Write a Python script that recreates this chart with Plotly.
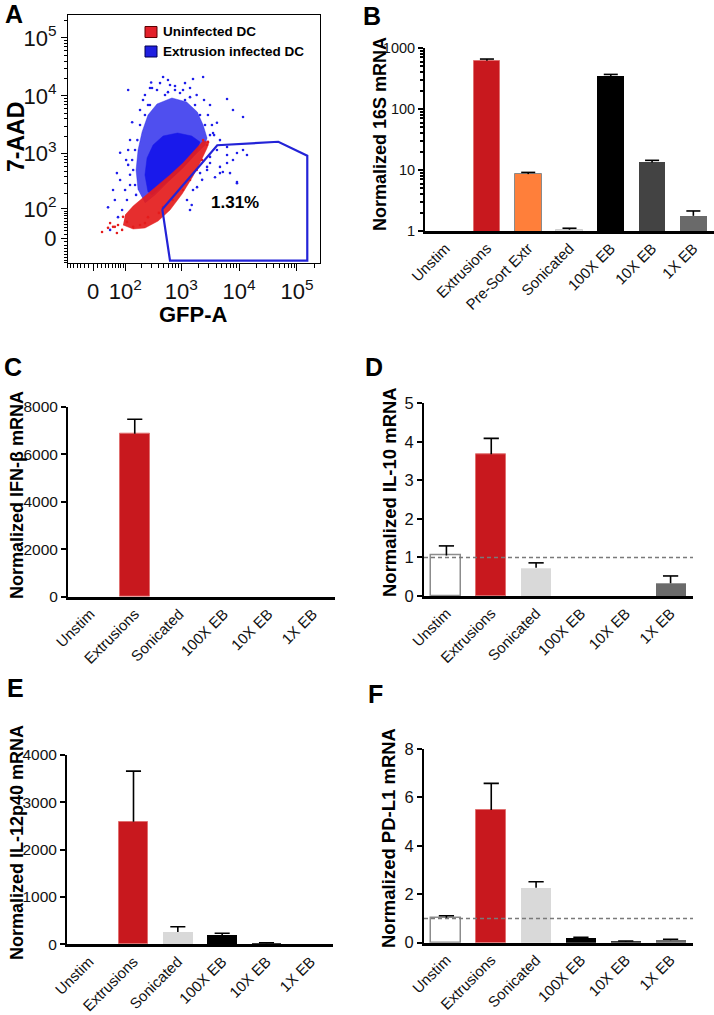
import numpy as np
import plotly.graph_objects as go

W, H = 714, 1015
FONT = "Liberation Sans, Arial, Helvetica, sans-serif"

# ---------------- Panel A : flow cytometry (raw intensities) ----------------
# scattered blue events (Extrusion infected DC)
blue_gfp = [485, 590, 1600, 2390, 114, 215, 380, 954, 1420, 6200, 11700, 7850, 136, 190,
            4150, 3550, 4680, 7850, 9200, 4680, 2800, 3150, 66, 53, 38, 78, 108, 44, 70,
            1420, 1260, 1880, 6200, 2120, 4150, 6200, 9200, 13700, 3150, 4680, 6970, 5250,
            3840, 9200, 2300, 1600, 1520, 2800, 6200, 11700, 154, 136, 170, 124, 154, 99,
            114, 190, 233, 286, 524, 781, 1164, 1734, 2116, 2580, 3148, 78, 59, 86, 286,
            640, 1164, 300,
            233, 311, 429, 590, 781, 1075, 1421, 1850, 2480, 264, 124, 114, 142, 124, 161,
            104, 2900, 3400, 3700, 3148]
blue_aad = [21200, 18800, 19600, 21200, 12600, 8500, 12600, 11200, 9500, 8800, 4300, 5700,
            3500, 5700, 3420, 2280, 1720, 780, 320, 460, 590, 880, 460, 231, 108, 1040, 151,
            23, 65, 95, 151, 260, 1310, 460, 1160, 950, 1030, 950, 690, 590, 460, 480, 390,
            305, 350, 231, 121, 520, 690, 1160, 1160, 780, 1720, 430, 284, 231, 640, 3140,
            4670, 6960, 10350, 12600, 8490, 6960, 4670, 3140, 2100, 349, 151, 95, 13700,
            15400, 16600, 17000,
            10350, 13700, 16600, 11600, 14800, 12635, 13700, 10350, 8486, 6960, 1724, 1161,
            521, 284, 188, 778, 4670, 3140, 2100, 6960]
# scattered red events (Uninfected DC)
red_gfp = [22, 38, 53, 70, 86, 108, 44, 90, 142, 190, 233, 264, 410, 485, 710, 1075, 1420,
           1850, 2300, 2800, 2390, 2900, 66, 59]
red_aad = [17, 29, 32, 38, 23, 48, 44, 66, 32, 38, 44, 65, 82, 110, 151, 231, 349, 521, 778,
           1414, 1720, 1600, 14, 32]
# dense population outlines
blue_outer_gfp = [175, 161, 175, 207, 264, 380, 690, 1240, 1900, 2390, 2800, 2580, 1734,
                  1075, 590, 350, 233]
blue_outer_aad = [231, 521, 1161, 2380, 4670, 7240, 9190, 7850, 5265, 3140, 1870, 1414, 951,
                  565, 321, 188, 132]
blue_core_gfp = [264, 233, 254, 324, 485, 866, 1520, 2116, 1850, 1260, 781, 470, 310]
blue_core_aad = [213, 427, 843, 1414, 2025, 2280, 2025, 1596, 1072, 690, 427, 272, 188]
red_core_gfp = [90, 142, 233, 397, 640, 1035, 1570, 2116, 2800, 3030, 2390, 1734, 1075, 640,
                380, 233, 142, 99]
red_core_aad = [38, 25.6, 28.6, 51, 95, 195, 393, 690, 1256, 1596, 1660, 1161, 690, 427,
                272, 180, 115, 73]
gate_gfp = [470, 4200, 47600, 150700, 150700, 640, 470]
gate_aad = [99, 1400, 1610, 924, -72, -72, 99]
gate_pct = "1.31%"
a_major = [0, 100, 1000, 10000, 100000]
a_major_text = ["0", "10<sup>2</sup>", "10<sup>3</sup>", "10<sup>4</sup>", "10<sup>5</sup>"]
a_minor = ([-v for v in range(10, 100, 10)] + list(range(10, 100, 10)) +
           list(range(200, 1000, 100)) + list(range(2000, 10000, 1000)) +
           list(range(20000, 100000, 10000)) + [200000])

# ---------------- Panel B : 16S ----------------
cats_B = ["Unstim", "Extrusions", "Pre-Sort Extr", "Sonicated", "100X EB", "10X EB", "1X EB"]
b_mean = [1.0, 618, 8.56, 1.05, 346, 13.3, 1.77]
b_sem = [0, 41, 0.57, 0.06, 23, 1.1, 0.36]
b_colors = ["#ffffff", "#c8181e", "#ff7f3a", "#dcdcdc", "#000000", "#434343", "#6a6a6a"]
b_lines = ["#ffffff", "#e07070", "#8a8a8a", "#cfcfcf", "#000000", "#434343", "#6a6a6a"]

# ---------------- Panels C-F ----------------
cats = ["Unstim", "Extrusions", "Sonicated", "100X EB", "10X EB", "1X EB"]
c_mean = [1, 6860, 0, 0, 0, 0]
c_sem = [0, 610, 0, 0, 0, 0]
d_mean = [1.05, 3.68, 0.73, 0, 0, 0.33]
d_sem = [0.25, 0.41, 0.13, 0, 0, 0.19]
e_mean = [1, 2590, 260, 197, 20, 5]
e_sem = [0, 1070, 112, 35, 12, 0]
f_mean = [1.0, 5.48, 2.27, 0.18, 0.04, 0.10]
f_sem = [0.11, 1.10, 0.25, 0.04, 0.03, 0.04]
cf_colors = ["#ffffff", "#c8181e", "#d9d9d9", "#000000", "#3c3c3c", "#6a6a6a"]
cf_lines = ["#8c8c8c", "#e07070", "#d9d9d9", "#000000", "#3c3c3c", "#6a6a6a"]
cf_lines_noun = ["#ffffff"] + cf_lines[1:]


def bx(v):
    return np.arcsinh(np.asarray(v, dtype=float) / 60.0) / np.log(10)


def by(v):
    return np.arcsinh(np.asarray(v, dtype=float) / 70.0) / np.log(10)


def X(p):
    return p / W


def Y(p):
    return 1 - p / H


fig = go.Figure()


# ---- panel A traces
def poly(gx, gy, color):
    fig.add_trace(go.Scatter(x=bx(gx), y=by(gy), mode="lines", fill="toself",
                             fillcolor=color, line=dict(color=color, width=0.5),
                             hoverinfo="skip", showlegend=False, xaxis="x", yaxis="y"))


poly(blue_outer_gfp, blue_outer_aad, "rgba(30,30,235,0.78)")
poly(blue_core_gfp, blue_core_aad, "rgb(25,25,235)")
poly(red_core_gfp, red_core_aad, "rgba(228,28,28,0.92)")
fig.add_trace(go.Scatter(x=bx(blue_gfp), y=by(blue_aad), mode="markers",
                         marker=dict(size=2.6, color="rgb(30,30,235)"),
                         showlegend=False, xaxis="x", yaxis="y"))
fig.add_trace(go.Scatter(x=bx(red_gfp), y=by(red_aad), mode="markers",
                         marker=dict(size=2.6, color="rgb(228,28,28)"),
                         showlegend=False, xaxis="x", yaxis="y"))
fig.add_trace(go.Scatter(x=bx(gate_gfp), y=by(gate_aad), mode="lines",
                         line=dict(color="rgb(35,35,215)", width=2.2),
                         showlegend=False, xaxis="x", yaxis="y"))


# ---- bar panels
def bar_panel(n, means, sems, colors, lines, ax, width):
    lw = [1.5 if (c == "#ffffff" and l != c) else (1.0 if l != c else 0)
          for c, l in zip(colors, lines)]
    fig.add_trace(go.Bar(x=list(range(n)), y=means, width=width,
                         marker=dict(color=colors, line=dict(color=lines, width=lw)),
                         showlegend=False, xaxis="x" + ax, yaxis="y" + ax))
    ex, ey = [], []
    for i, (m, s) in enumerate(zip(means, sems)):
        if s > 0:
            ex += [i, i, None, i - 0.17, i + 0.17, None]
            ey += [m, m + s, None, m + s, m + s, None]
    fig.add_trace(go.Scatter(x=ex, y=ey, mode="lines", line=dict(color="black", width=1.6),
                             showlegend=False, hoverinfo="skip",
                             xaxis="x" + ax, yaxis="y" + ax))


bar_panel(7, b_mean, b_sem, b_colors, b_lines, "2", 0.65)
bar_panel(6, c_mean, c_sem, cf_colors, cf_lines_noun, "3", 0.67)
bar_panel(6, d_mean, d_sem, cf_colors, cf_lines, "4", 0.67)
bar_panel(6, e_mean, e_sem, cf_colors, cf_lines_noun, "5", 0.67)
bar_panel(6, f_mean, f_sem, cf_colors, cf_lines, "6", 0.67)

tickfont_A = dict(family=FONT, size=22, color="#111")
layout_axes = {}
layout_axes["xaxis"] = dict(domain=[X(68), X(320)], range=[-0.4318, 3.9206], anchor="y",
                            tickmode="array", tickvals=bx(a_major), ticktext=a_major_text,
                            ticks="outside", ticklen=7, tickwidth=1, tickcolor="black",
                            minor=dict(tickvals=bx(a_minor), ticks="outside", ticklen=4,
                                       tickcolor="black", tickwidth=1),
                            showline=True, mirror=True, linecolor="black", linewidth=1,
                            showgrid=False, zeroline=False, tickfont=tickfont_A,
                            ticklabelstandoff=2, automargin=False)
layout_axes["yaxis"] = dict(domain=[Y(263), Y(15)], range=[-0.432, 3.853], anchor="x",
                            tickmode="array", tickvals=by(a_major), ticktext=a_major_text,
                            ticks="outside", ticklen=6, tickwidth=1, tickcolor="black",
                            minor=dict(tickvals=by(a_minor), ticks="outside", ticklen=3,
                                       tickcolor="black", tickwidth=1),
                            showline=True, mirror=True, linecolor="black", linewidth=1,
                            showgrid=False, zeroline=False, tickfont=tickfont_A,
                            automargin=False)

cat_font = dict(family=FONT, size=15, color="#111")


def xcat(dom, n, labels, anchor):
    return dict(domain=dom, range=[-0.5, n - 0.5], anchor=anchor, tickmode="array",
                tickvals=list(range(n)), ticktext=labels, tickangle=-45, ticks="",
                showline=True, linecolor="black", linewidth=2.5, showgrid=False,
                zeroline=False, tickfont=cat_font, automargin=False)


def ylin(dom, rng, dt, anchor, fs=16.5):
    return dict(domain=dom, range=rng, anchor=anchor, dtick=dt, tick0=0, ticks="outside",
                ticklen=5, tickwidth=2, tickcolor="black", showline=True, linecolor="black",
                linewidth=2, showgrid=False, zeroline=False, automargin=False,
                tickfont=dict(family=FONT, size=fs, color="#111"))


layout_axes["xaxis2"] = xcat([X(425), 1.0], 7, cats_B, "y2")
layout_axes["yaxis2"] = dict(domain=[Y(231), Y(48)], type="log", range=[0, 3], anchor="x2",
                             tickmode="array", tickvals=[1, 10, 100, 1000],
                             ticktext=["1", "10", "100", "1000"], ticks="outside",
                             ticklen=5, tickwidth=2, tickcolor="black",
                             minor=dict(tickvals=[2, 3, 4, 5, 6, 7, 8, 9, 20, 30, 40, 50, 60,
                                                  70, 80, 90, 200, 300, 400, 500, 600, 700,
                                                  800, 900],
                                        ticks="outside", ticklen=3, tickwidth=1.5,
                                        tickcolor="black"),
                             showline=True, linecolor="black", linewidth=2, showgrid=False,
                             zeroline=False, automargin=False,
                             tickfont=dict(family=FONT, size=14.5, color="#111"))
layout_axes["xaxis3"] = xcat([X(68), X(335)], 6, cats, "y3")
layout_axes["yaxis3"] = ylin([Y(596.7), Y(406.7)], [0, 8000], 2000, "x3", 15.5)
layout_axes["xaxis4"] = xcat([X(424), X(693)], 6, cats, "y4")
layout_axes["yaxis4"] = ylin([Y(596), Y(403.3)], [0, 5], 1, "x4")
layout_axes["xaxis5"] = xcat([X(67), X(333)], 6, cats, "y5")
layout_axes["yaxis5"] = ylin([Y(944.3), Y(755)], [0, 4000], 1000, "x5", 15.5)
layout_axes["xaxis6"] = xcat([X(424), X(693)], 6, cats, "y6")
layout_axes["yaxis6"] = ylin([Y(942.7), Y(749)], [0, 8], 2, "x6")

shapes = []
for ax in ["4", "6"]:
    shapes.append(dict(type="line", xref="x" + ax + " domain", x0=0, x1=1, yref="y" + ax,
                       y0=1, y1=1, line=dict(color="#7a7a7a", width=1.5, dash="4px,3px"),
                       layer="above"))
# legend swatches (panel A)
shapes.append(dict(type="rect", xref="paper", yref="paper", x0=X(145), x1=X(157),
                   y0=Y(37.5), y1=Y(26.5), fillcolor="#e3202a",
                   line=dict(color="#5a0000", width=1)))
shapes.append(dict(type="rect", xref="paper", yref="paper", x0=X(145), x1=X(157),
                   y0=Y(57), y1=Y(46), fillcolor="#1f1fe0",
                   line=dict(color="#000050", width=1)))

ann = []


def text(t, x, y, size, bold=True, angle=0, xanchor="center"):
    ann.append(dict(text=("<b>%s</b>" % t) if bold else t, x=X(x), y=Y(y), xref="paper",
                    yref="paper", showarrow=False, textangle=angle, xanchor=xanchor,
                    yanchor="middle", font=dict(family=FONT, size=size, color="#000")))


for lab, x, y in [("A", 14, 14), ("B", 372, 16), ("C", 13, 367), ("D", 374, 366.5),
                  ("E", 15, 688), ("F", 375, 694)]:
    text(lab, x, y, 25)
text("Uninfected DC", 161, 32, 13.5, xanchor="left")
text("Extrusion infected DC", 161, 51.5, 13.5, xanchor="left")
text(gate_pct, 235, 202, 17)
text("7-AAD", 16, 137, 23, angle=-90)
text("GFP-A", 193, 315, 22)
text("Normalized 16S mRNA", 380, 134, 18, angle=-90)
text("Normalized IFN-β mRNA", 17, 495, 18, angle=-90)
text("Normalized IL-10 mRNA", 389, 492, 18.5, angle=-90)
text("Normalized IL-12p40 mRNA", 17, 843, 18, angle=-90)
text("Normalized PD-L1 mRNA", 388, 838, 18.5, angle=-90)

fig.update_layout(width=W, height=H, autosize=False, margin=dict(l=0, r=0, t=0, b=0, pad=0),
                  paper_bgcolor="white", plot_bgcolor="white", bargap=0, showlegend=False,
                  shapes=shapes, annotations=ann, font=dict(family=FONT, color="#111"),
                  **layout_axes)
fig.write_html("out.html", config={"displayModeBar": False},
               post_script="document.body.style.margin='0px';"
                           "document.body.style.overflow='hidden';")
